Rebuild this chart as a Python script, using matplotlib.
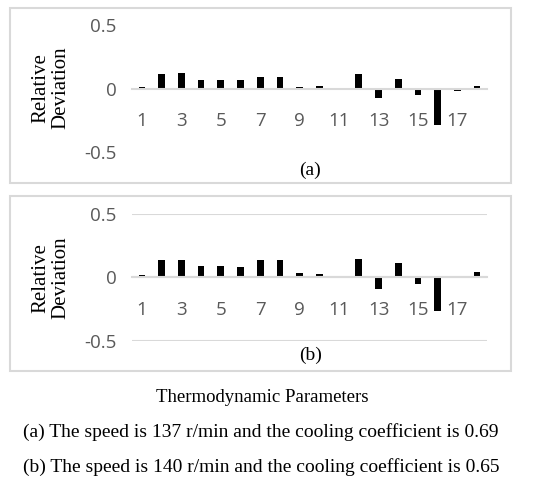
import numpy as np
import matplotlib.pyplot as plt
from matplotlib.patches import Rectangle

params = np.arange(1, 19)
dev_a = [0.01, 0.118, 0.12, 0.068, 0.066, 0.063, 0.092, 0.094, 0.013, 0.018,
         0.0, 0.113, -0.076, 0.071, -0.052, -0.286, -0.018, 0.018]
dev_b = [0.018, 0.14, 0.14, 0.085, 0.085, 0.082, 0.135, 0.137, 0.034, 0.029,
         0.0, 0.148, -0.09, 0.11, -0.05, -0.27, -0.005, 0.042]
xtick_pos = [1, 3, 5, 7, 9, 11, 13, 15, 17]
ytick_pos = [-0.5, 0, 0.5]
ytick_labels = ['-0.5', '0', '0.5']

W, H = 549, 491
fig = plt.figure(figsize=(W / 100, H / 100), dpi=100)

serif = 'Liberation Serif'
sans = 'Open Sans'
grey = '#d9d9d9'
tick_col = '#595959'


def panel(top, bottom, data, grid):
    ax = fig.add_axes([132 / W, 1 - bottom / H, 355 / W, (bottom - top) / H])
    ax.bar(params, data, width=0.34, color='black')
    ax.set_xlim(0.5, 18.5)
    ax.set_ylim(-0.5, 0.5)
    for s in ['top', 'right', 'left']:
        ax.spines[s].set_visible(False)
    ax.spines['bottom'].set_position(('data', 0))
    ax.spines['bottom'].set_color(grey)
    ax.spines['bottom'].set_linewidth(1.5)
    ax.set_xticks(xtick_pos)
    ax.set_xticklabels([str(i) for i in xtick_pos])
    ax.set_yticks(ytick_pos)
    ax.set_yticklabels(ytick_labels)
    ax.tick_params(axis='x', length=0, pad=17, labelsize=13.5, labelcolor=tick_col)
    ax.tick_params(axis='y', length=0, pad=11, labelsize=13.5, labelcolor=tick_col)
    for lab in ax.get_xticklabels() + ax.get_yticklabels():
        lab.set_fontfamily(sans)
    if grid:
        ax.yaxis.grid(True, color=grey, linewidth=1.5)
        ax.set_axisbelow(True)
    return ax


ax_a = panel(25, 152, dev_a, False)
ax_b = panel(214, 340.5, dev_b, True)

# panel frames
fig.patches.append(Rectangle((9.5 / W, 1 - 183 / H), 501.5 / W, 175.5 / H,
                             transform=fig.transFigure, fill=False,
                             edgecolor=grey, linewidth=1.5))
fig.patches.append(Rectangle((9.5 / W, 1 - 371 / H), 501.5 / W, 175 / H,
                             transform=fig.transFigure, fill=False,
                             edgecolor=grey, linewidth=1.5))

for yc in [88, 278]:
    fig.text(51 / W, 1 - yc / H, 'Relative\nDeviation', rotation=90,
             ha='center', va='center', family=serif, fontsize=15,
             linespacing=1.1)

fig.text(310 / W, 1 - 170 / H, '(a)', ha='center', va='center', family=serif, fontsize=14)
fig.text(311 / W, 1 - 355 / H, '(b)', ha='center', va='center', family=serif, fontsize=14)

fig.text(262 / W, 1 - 397 / H, 'Thermodynamic Parameters', ha='center', va='center',
         family=serif, fontsize=13.5)
fig.text(261 / W, 1 - 432 / H, '(a) The speed is 137 r/min and the cooling coefficient is 0.69',
         ha='center', va='center', family=serif, fontsize=14)
fig.text(261 / W, 1 - 467 / H, '(b) The speed is 140 r/min and the cooling coefficient is 0.65',
         ha='center', va='center', family=serif, fontsize=14)

fig.savefig('out.png', dpi=100)
